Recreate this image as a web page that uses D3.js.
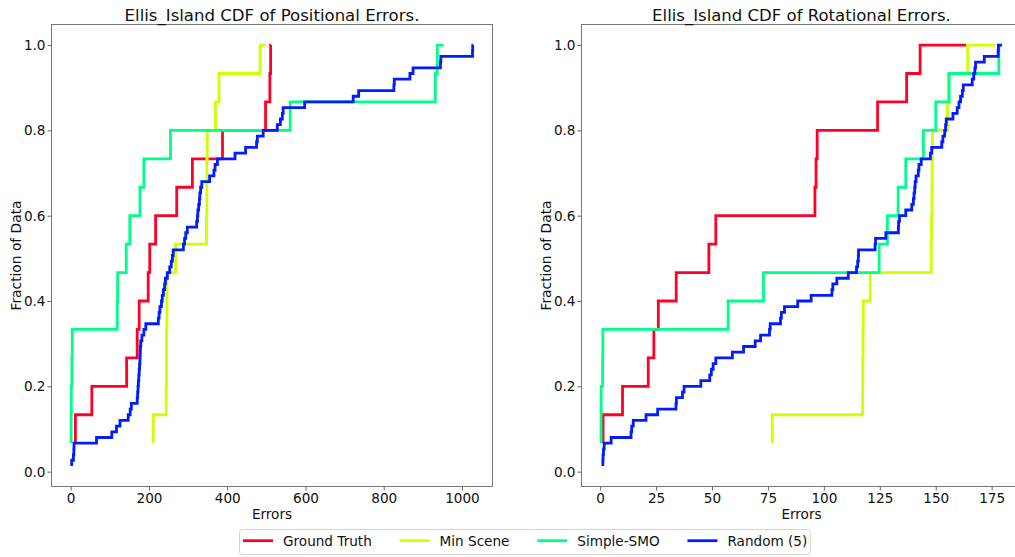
<!DOCTYPE html>
<html>
<head>
<meta charset="utf-8">
<script src="https://cdn.jsdelivr.net/npm/d3@7"></script>
<style>
  body { margin: 0; background: #fff; }
  svg { display: block; font-family: "DejaVu Sans", sans-serif; }
</style>
</head>
<body>
<div id="chart-container"></div>
<script>
// series names + colours (gist_rainbow sampled at 0, .25, .5, .75)
const seriesNames = ["Ground Truth", "Min Scene", "Simple-SMO", "Random (5)"];
const seriesColors = ["#ff0029", "#cfff00", "#00ff89", "#001cff"];

// positional errors, sorted samples (15 runs, random has 75)
const posGroundTruth = [12, 54, 143, 170, 175, 198, 202, 217, 271, 311, 388, 498, 509, 511, 512];
const posMinScene = [211, 244, 245, 245, 246, 246, 268, 347, 348, 348, 349, 370, 379, 484, 498];
const posSimpleSMO = [1, 1.5, 3, 4, 119, 120, 142, 151, 177, 187, 255, 561, 932, 937, 953];
const posRandom = [2.5, 7, 8, 8.5, 66, 105, 117, 126, 147, 152, 155, 170, 171, 172, 173,
  174, 175, 176, 177, 177.5, 178, 179, 182, 187, 192, 224, 226, 228, 232, 234,
  237, 240, 242, 247, 253, 257, 260, 262, 288, 291, 294, 298, 322, 324, 325,
  327, 329, 330, 332, 335, 355, 366, 369, 375, 420, 447, 475, 477, 492, 528,
  536, 541, 543, 598, 722, 736, 826, 827, 867, 875, 945, 946, 1027, 1027.5, 1028];

// rotational errors
const rotGroundTruth = [1.3, 10, 21.5, 24, 26, 34, 48.6, 51.7, 96, 96.5, 97, 124, 137, 143, 163.7];
const rotMinScene = [76.9, 117.3, 117.4, 117.5, 117.6, 120.7, 148, 148.1, 148.3, 148.4, 148.5, 155.2, 155.6, 164.3, 176.7];
const rotSimpleSMO = [0.4, 0.45, 1.1, 1.2, 57.2, 73, 124.7, 128.4, 133.2, 136.6, 144.5, 150, 156, 178.2, 178.5];
const rotRandom = [1.2, 1.3, 1.5, 1.8, 4.9, 13.8, 14.1, 14.8, 20.5, 25.7, 33.9, 34.1, 36.8, 37.5, 45,
  49, 49.7, 50.5, 51.7, 59.1, 64.1, 69.3, 71.7, 75.7, 76, 80.6, 81, 82.4, 88.3, 94.3,
  103.6, 104, 105.8, 110.9, 114.6, 115.1, 115.4, 115.5, 122.9, 123.1, 127.7, 133.3, 133.4, 133.8, 136.6,
  139.3, 140, 140.3, 140.6, 140.8, 141.2, 142.2, 142.5, 143.5, 147.6, 148.2, 152.7, 153.2, 154, 154.4,
  154.7, 157.7, 159.6, 160.4, 161.1, 161.9, 162.3, 166.3, 167, 167.5, 167.8, 171.7, 177.9, 178, 179.6];

const yTicks = [0, 0.2, 0.4, 0.6, 0.8, 1.0];
const posXTicks = [0, 200, 400, 600, 800, 1000];
const rotXTicks = [0, 25, 50, 75, 100, 125, 150, 175];

const width = 1015, height = 557;

const svg = d3.select("#chart-container")
  .append("svg")
  .attr("width", width)
  .attr("height", height);

// turn sorted samples into cdf points
function cdf(values) {
  return values.map((v, i) => [v, (i + 1) / values.length]);
}

// matplotlib style 5% margins
function padded(ext) {
  const r = ext[1] - ext[0];
  return [ext[0] - r * 0.05, ext[1] + r * 0.05];
}

// scale a text's font so it spans the wanted width
function fitText(sel, base, wanted) {
  sel.style("font-size", base + "px");
  const w = sel.node().getComputedTextLength();
  sel.style("font-size", (base * wanted / w).toFixed(2) + "px");
}

function drawPanel(left, right, title, seriesData, xTicks) {
  const top = 24, bottom = 487;
  const g = svg.append("g");

  const all = seriesData.map(cdf);
  const xs = all.flat().map(d => d[0]);
  const ys = all.flat().map(d => d[1]);

  const x = d3.scaleLinear().domain(padded(d3.extent(xs))).range([left, right]);
  const y = d3.scaleLinear().domain(padded(d3.extent(ys))).range([bottom, top]);

  // axes
  const yAxis = g.append("g")
    .attr("transform", `translate(${left},0)`)
    .call(d3.axisLeft(y).tickValues(yTicks).tickFormat(d3.format(".1f")).tickSize(3.5).tickPadding(2));
  const xAxis = g.append("g")
    .attr("transform", `translate(0,${bottom})`)
    .call(d3.axisBottom(x).tickValues(xTicks).tickFormat(d3.format("d")).tickSize(3.5).tickPadding(2.5));

  [xAxis, yAxis].forEach(a => {
    a.select(".domain").remove();
    a.selectAll(".tick line").attr("stroke", "#555").attr("stroke-width", 0.9);
    a.selectAll(".tick text")
      .attr("fill", "#111")
      .style("font-family", "DejaVu Sans")
      .style("font-size", "13.6px");
  });

  // lines
  const line = d3.line()
    .x(d => x(d[0]))
    .y(d => y(d[1]))
    .curve(d3.curveStepBefore);

  const clipId = "clip" + left;
  g.append("clipPath").attr("id", clipId)
    .append("rect").attr("x", left).attr("y", top).attr("width", right - left).attr("height", bottom - top);

  g.append("g").attr("clip-path", `url(#${clipId})`)
    .selectAll("path")
    .data(all)
    .enter()
    .append("path")
    .attr("d", line)
    .attr("fill", "none")
    .attr("stroke", (d, i) => seriesColors[i])
    .attr("stroke-width", 2.8)
    .attr("stroke-linejoin", "miter");

  // frame
  g.append("rect")
    .attr("x", left + 0.5)
    .attr("y", top + 0.5)
    .attr("width", right - left - 1)
    .attr("height", bottom - top - 1)
    .attr("fill", "none")
    .attr("stroke", "#777")
    .attr("stroke-width", 1);

  // title + labels
  const titleText = g.append("text")
    .attr("x", (left + right) / 2)
    .attr("y", 20.5)
    .attr("text-anchor", "middle")
    .attr("fill", "#111")
    .text(title);
  fitText(titleText, 16.5, title.indexOf("Rotational") >= 0 ? 299 : 295);

  g.append("text")
    .attr("x", (left + right) / 2)
    .attr("y", 518.5)
    .attr("text-anchor", "middle")
    .style("font-size", "13.6px")
    .attr("fill", "#111")
    .text("Errors");

  const yLabel = g.append("text")
    .attr("transform", `translate(${left - 30.5},${(top + bottom) / 2}) rotate(-90)`)
    .attr("text-anchor", "middle")
    .attr("fill", "#111")
    .text("Fraction of Data");
  fitText(yLabel, 13.6, 110);
}

drawPanel(51, 493, "Ellis_Island CDF of Positional Errors.",
  [posGroundTruth, posMinScene, posSimpleSMO, posRandom], posXTicks);
drawPanel(581, 1022, "Ellis_Island CDF of Rotational Errors.",
  [rotGroundTruth, rotMinScene, rotSimpleSMO, rotRandom], rotXTicks);

/* legend */
const legend = svg.append("g");
const legendBox = legend.append("rect")
  .attr("y", 529.5)
  .attr("height", 25)
  .attr("rx", 3)
  .attr("fill", "#fff")
  .attr("stroke", "#d5d5d5")
  .attr("stroke-width", 1);

let cursor = 243;
seriesNames.forEach((name, i) => {
  const item = legend.append("g");
  item.append("line")
    .attr("x1", cursor).attr("x2", cursor + 30)
    .attr("y1", 540.7).attr("y2", 540.7)
    .attr("stroke", seriesColors[i])
    .attr("stroke-width", 2.8);
  const t = item.append("text")
    .attr("x", cursor + 40)
    .attr("y", 546)
    .style("font-size", "13.6px")
    .attr("fill", "#111")
    .text(name);
  cursor = cursor + 40 + t.node().getComputedTextLength() + 27.8;
});
legendBox.attr("x", 239.5).attr("width", cursor - 27.8 + 3 - 239.5);
</script>
</body>
</html>
